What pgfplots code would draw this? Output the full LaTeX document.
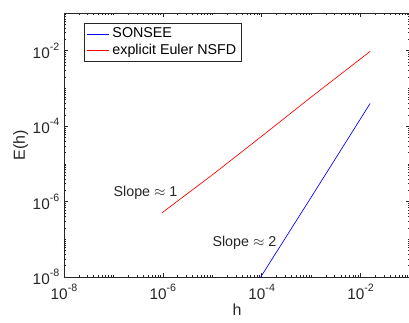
\documentclass[border=0pt]{standalone}
\usepackage{fontspec}
\setmainfont{Liberation Sans}
\usepackage{pgfplots}
\pgfplotsset{compat=1.18}
\definecolor{axc}{gray}{0.15}
\newcommand{\tl}[1]{10\raisebox{0.5em}{\fontsize{8}{8}\selectfont #1}}
\begin{document}
\begin{tikzpicture}
\begin{axis}[
  at={(0,0)}, anchor=south west,
  scale only axis, width=259.5pt, height=198pt,
  xmode=log, ymode=log,
  xmin=1e-8, xmax=1e-1, ymin=1e-8, ymax=1e-1,
  xtick={1e-8,1e-6,1e-4,1e-2},
  xticklabels={\tl{-8},\tl{-6},\tl{-4},\tl{-2}},
  ytick={1e-8,1e-6,1e-4,1e-2},
  yticklabels={\tl{-8},\tl{-6},\tl{-4},\tl{-2}},
  minor xtick={2e-8,3e-8,4e-8,5e-8,6e-8,7e-8,8e-8,9e-8,1e-7,2e-7,3e-7,4e-7,5e-7,6e-7,7e-7,8e-7,9e-7,
    2e-6,3e-6,4e-6,5e-6,6e-6,7e-6,8e-6,9e-6,1e-5,2e-5,3e-5,4e-5,5e-5,6e-5,7e-5,8e-5,9e-5,
    2e-4,3e-4,4e-4,5e-4,6e-4,7e-4,8e-4,9e-4,1e-3,2e-3,3e-3,4e-3,5e-3,6e-3,7e-3,8e-3,9e-3,
    2e-2,3e-2,4e-2,5e-2,6e-2,7e-2,8e-2,9e-2},
  minor ytick={2e-8,3e-8,4e-8,5e-8,6e-8,7e-8,8e-8,9e-8,1e-7,2e-7,3e-7,4e-7,5e-7,6e-7,7e-7,8e-7,9e-7,
    2e-6,3e-6,4e-6,5e-6,6e-6,7e-6,8e-6,9e-6,1e-5,2e-5,3e-5,4e-5,5e-5,6e-5,7e-5,8e-5,9e-5,
    2e-4,3e-4,4e-4,5e-4,6e-4,7e-4,8e-4,9e-4,1e-3,2e-3,3e-3,4e-3,5e-3,6e-3,7e-3,8e-3,9e-3,
    2e-2,3e-2,4e-2,5e-2,6e-2,7e-2,8e-2,9e-2},
  tick align=inside,
  major tick length=3pt, minor tick length=1.6pt,
  every tick/.style={axc, line width=0.45pt},
  axis line style={axc, line width=0.5pt},
  tick label style={font=\fontsize{11.5}{13}\selectfont, text=axc},
  xticklabel style={yshift=-2pt},
  yticklabel style={xshift=0pt},
  xlabel={h}, ylabel={E(h)},
  label style={font=\fontsize{12}{14}\selectfont, text=axc},
  xlabel style={yshift=4pt},
  ylabel style={yshift=-3.5pt},
  legend cell align=left,
  legend style={at={(0.058,0.962)}, anchor=north west, draw=axc, line width=0.5pt,
    font=\fontsize{10.7}{12}\selectfont, inner sep=1.5pt, row sep=-1pt,
    /tikz/every even column/.append style={column sep=1pt}},
  legend image post style={line width=0.5pt},
]
\addplot[blue, line width=0.5pt] coordinates {
  (1.0e-5, 9.0e-11) (1.0e-4, 1.1e-8) (1.0e-3, 1.3e-6) (0.015625, 4.0e-4)
};
\addlegendentry{SONSEE}
\addplot[red, line width=0.5pt] coordinates {
  (9.54e-7, 5.0e-7) (1.0e-5, 5.1e-6) (1.0e-4, 5.4e-5) (1.0e-3, 5.9e-4) (0.015625, 9.6e-3)
};
\addlegendentry{explicit Euler NSFD}
\node[anchor=west, inner sep=0pt, font=\fontsize{10.7}{12}\selectfont, text=axc] at (axis cs:1e-7,1.7e-6) {Slope $\approx$ 1};
\node[anchor=west, inner sep=0pt, font=\fontsize{10.7}{12}\selectfont, text=axc] at (axis cs:1e-5,8e-8) {Slope $\approx$ 2};
\end{axis}
\pgfresetboundingbox
\useasboundingbox (-48pt,-33.75pt) rectangle (258.75pt,207.75pt);
\end{tikzpicture}
\end{document}
